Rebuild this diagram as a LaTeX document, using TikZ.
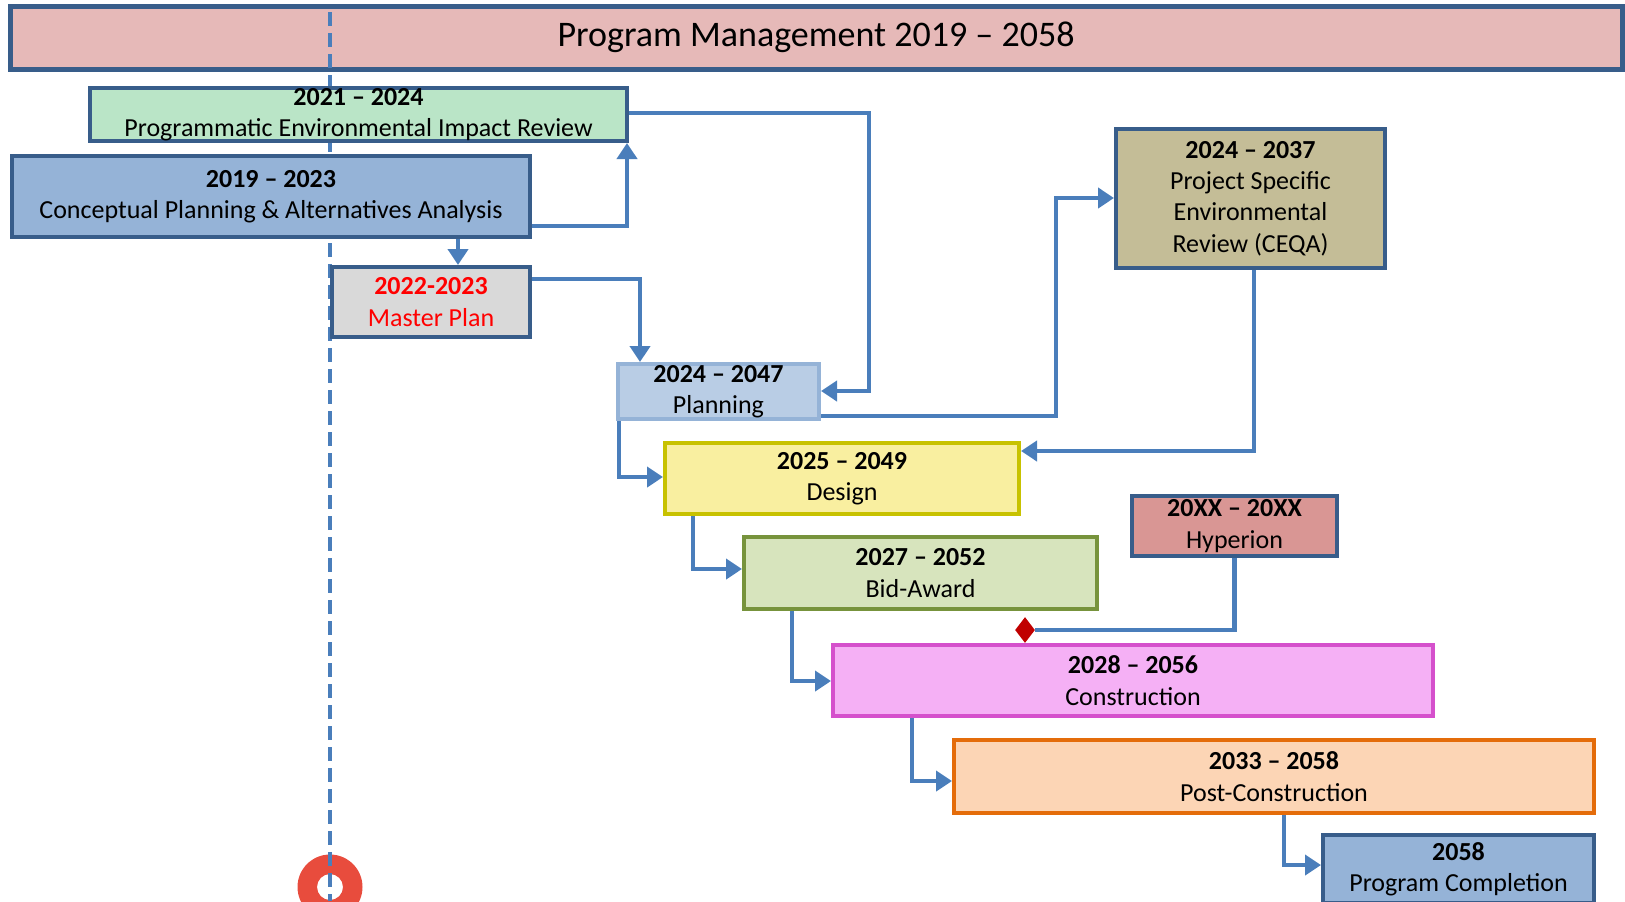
\documentclass[tikz,border=0pt]{standalone}
\usepackage{fontspec}
\setmainfont{Carlito}
\usetikzlibrary{arrows.meta,shapes.geometric}

\definecolor{edgeblue}{HTML}{385D8A}
\definecolor{linkblue}{HTML}{4A7EBB}
\definecolor{titlefill}{HTML}{E6B9B8}
\definecolor{peirfill}{HTML}{BAE5C7}
\definecolor{conceptfill}{HTML}{95B3D7}
\definecolor{masterfill}{HTML}{D9D9D9}
\definecolor{planfill}{HTML}{B9CDE5}
\definecolor{ceqafill}{HTML}{C4BD97}
\definecolor{designfill}{HTML}{F9EFA0}
\definecolor{designedge}{HTML}{C8C200}
\definecolor{hypfill}{HTML}{D99694}
\definecolor{bidfill}{HTML}{D7E4BD}
\definecolor{bidedge}{HTML}{77933C}
\definecolor{constrfill}{HTML}{F5B0F5}
\definecolor{constredge}{HTML}{D550CC}
\definecolor{postfill}{HTML}{FCD5B5}
\definecolor{postedge}{HTML}{E46C0A}
\definecolor{markred}{HTML}{C00000}
\definecolor{ringred}{HTML}{E84C3D}

\begin{document}
\begin{tikzpicture}[x=0.5pt, y=-0.5pt,
    phase/.style={draw=edgeblue, line width=2pt, align=center, inner sep=0pt,
      font=\fontsize{13}{15.7}\selectfont},
    link/.style={draw=linkblue, line width=2.2pt, -{Triangle[length=8pt,width=10pt]}},
    plainlink/.style={draw=linkblue, line width=2.2pt}]
  \useasboundingbox (0,0) rectangle (1625,901);

  \node[phase, fill=titlefill, line width=2.5pt, minimum width=806pt, minimum height=31.5pt,
        font=\fontsize{18}{22}\selectfont] (title) at (816,37.5) {Program Management 2019 -- 2058};

  % start marker and time line
  \fill[ringred, even odd rule] (330,887) circle (16.25pt) (330,887) circle (6.5pt);
  \draw[linkblue, line width=1.7pt, dash pattern=on 7pt off 3.5pt] (330,12) -- (330,901);

  \node[phase, fill=peirfill, minimum width=268.5pt, minimum height=26.5pt] (peir) at (358.5,114.5)
        {\textbf{2021 -- 2024}\\Programmatic Environmental Impact Review};
  \node[phase, fill=conceptfill, minimum width=259pt, minimum height=40.5pt] (concept) at (271,196.5)
        {\textbf{2019 -- 2023}\\Conceptual Planning \& Alternatives Analysis};
  \node[phase, fill=masterfill, text=red, minimum width=99pt, minimum height=35pt] (master) at (431,302)
        {\textbf{2022-2023}\\Master Plan};
  \node[phase, fill=planfill, draw=conceptfill, minimum width=100.5pt, minimum height=27.5pt] (plan) at (718.5,391.5)
        {\textbf{2024 -- 2047}\\Planning};
  \node[phase, fill=ceqafill, minimum width=134.5pt, minimum height=69.5pt] (ceqa) at (1250.5,198.5)
        {\textbf{2024 -- 2037}\\Project Specific\\Environmental\\Review (CEQA)};
  \node[phase, fill=designfill, draw=designedge, minimum width=177pt, minimum height=35.5pt] (design) at (842,478.5)
        {\textbf{2025 -- 2049}\\Design};
  \node[phase, fill=hypfill, minimum width=102.5pt, minimum height=30pt] (hyp) at (1234.5,526)
        {\textbf{20XX -- 20XX}\\Hyperion};
  \node[phase, fill=bidfill, draw=bidedge, minimum width=176.5pt, minimum height=36pt] (bid) at (920.5,573)
        {\textbf{2027 -- 2052}\\Bid-Award};
  \node[phase, fill=constrfill, draw=constredge, minimum width=300pt, minimum height=35.5pt] (constr) at (1133,680.5)
        {\textbf{2028 -- 2056}\\Construction};
  \node[phase, fill=postfill, draw=postedge, minimum width=320pt, minimum height=36.5pt] (post) at (1274,776.5)
        {\textbf{2033 -- 2058}\\Post-Construction};
  \node[phase, fill=conceptfill, minimum width=135.5pt, minimum height=34pt] (done) at (1458.5,869)
        {\textbf{2058}\\Program Completion};

  \node[diamond, fill=markred, inner sep=0pt, minimum width=10pt, minimum height=13pt] (mark) at (1025,630) {};

  % connectors
  \draw[link] (concept.east |- 0,226) -| (peir.south -| 627,0);
  \draw[link] (concept.south -| 458,0) -- (master.north -| 458,0);
  \draw[link] (master.east |- 0,279) -| (plan.north -| 640,0);
  \draw[link] (peir.east |- 0,113) -- ++(240,0) |- (plan.east |- 0,391);
  \draw[link] (plan.east |- 0,416) -- ++(235,0) |- (ceqa.west |- 0,198);
  \draw[link] (ceqa.south -| 1254,0) |- (design.east |- 0,451);
  \draw[link] (plan.south -| 619,0) |- (design.west |- 0,477);
  \draw[link] (design.south -| 693,0) |- (bid.west |- 0,569);
  \draw[link] (bid.south -| 792,0) |- (constr.west |- 0,681);
  \draw[plainlink] (hyp.south) |- (mark.east);
  \draw[link] (constr.south -| 912,0) |- (post.west |- 0,781);
  \draw[link] (post.south -| 1284,0) |- (done.west |- 0,865);
\end{tikzpicture}
\end{document}
